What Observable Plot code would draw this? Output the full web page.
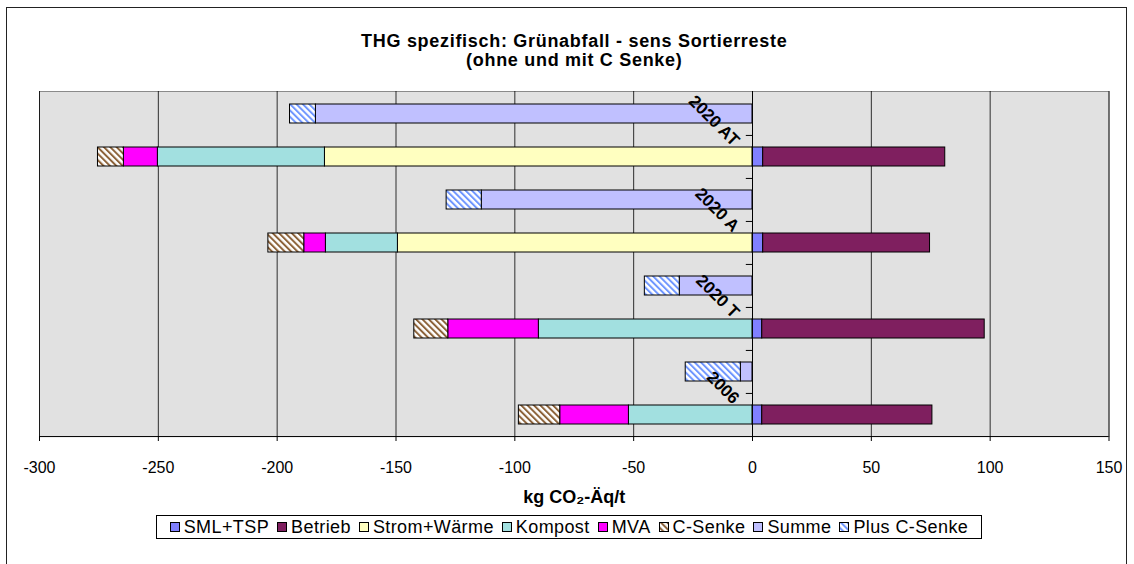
<!DOCTYPE html>
<html>
<head>
<meta charset="utf-8">
<script src="https://cdn.jsdelivr.net/npm/d3@7"></script>
<script src="https://cdn.jsdelivr.net/npm/@observablehq/plot@0.6"></script>
<style>
  body { margin: 0; background: #fff; }
  #wrap { position: relative; width: 1134px; height: 564px; overflow: hidden; font-family: "Liberation Sans", Arial, sans-serif; }
  #border { position: absolute; left: 6px; top: 7px; width: 1121px; height: 600px; border: 1px solid #222; box-sizing: border-box; }
  #chart { position: absolute; left: 0; top: 0; }
  #legend { position: absolute; left: 156px; top: 515px; width: 826px; height: 24px; border: 1px solid #000; box-sizing: border-box; background: #fff;
            display: flex; align-items: center; justify-content: center; font-size: 18px; color: #000; white-space: nowrap; letter-spacing: 0.4px; }
  #legend .item { display: inline-flex; align-items: center; margin: 0 4px; }
  #legend svg { margin-right: 4px; }
</style>
</head>
<body>
<svg width="0" height="0" style="position:absolute">
  <defs>
    <pattern id="hatchBrown" patternUnits="userSpaceOnUse" width="4.5" height="4.5" patternTransform="rotate(-45)">
      <rect width="4.5" height="4.5" fill="#ffffff"></rect>
      <rect width="2" height="4.5" fill="#8c6239"></rect>
    </pattern>
    <pattern id="hatchBlue" patternUnits="userSpaceOnUse" width="4.5" height="4.5" patternTransform="rotate(-45)">
      <rect width="4.5" height="4.5" fill="#ffffff"></rect>
      <rect width="2" height="4.5" fill="#6f96ff"></rect>
    </pattern>
  </defs>
</svg>
<div id="wrap">
  <div id="border"></div>
  <div id="chart"></div>
  <div id="legend"></div>
</div>
<script>
// ---- data ----
const categories = ["2020 AT", "2020 A", "2020 T", "2006"];
const seriesNames = ["SML+TSP", "Betrieb", "Strom+Wärme", "Kompost", "MVA", "C-Senke", "Summe", "Plus C-Senke"];
const smlTsp      = [4.5, 4.5, 4.1, 4.1];
const betrieb     = [76.6, 70.2, 93.6, 71.6];
const stromWaerme = [-179.9, -149.2, 0, 0];
const kompost     = [-70.3, -30.3, -89.9, -52.0];
const mva         = [-14.3, -9.1, -38.1, -28.9];
const cSenke      = [-10.9, -15.1, -14.3, -17.4];
const summe       = [-183.7, -113.9, -30.6, -4.9];
const plusCSenke  = [-10.9, -14.8, -14.7, -23.2];
const xTicks = [-300, -250, -200, -150, -100, -50, 0, 50, 100, 150];
const titleLines = ["THG spezifisch: Grünabfall - sens Sortierreste", "(ohne und mit C Senke)"];
const xLabel = "kg CO₂-Äq/t";

const colors = {
  "SML+TSP": "#8080ff",
  "Betrieb": "#7f1f5f",
  "Strom+Wärme": "#ffffc0",
  "Kompost": "#a2e0e0",
  "MVA": "#ff00ff",
  "C-Senke": "url(#hatchBrown)",
  "Summe": "#c0c0ff",
  "Plus C-Senke": "url(#hatchBlue)"
};

// ---- build table ----
const rows = [];
categories.forEach(c => { rows.push(c + "|sum"); rows.push(c + "|comp"); });
const data = [];
categories.forEach((c, i) => {
  const comp = [["SML+TSP", smlTsp[i]], ["Betrieb", betrieb[i]], ["Strom+Wärme", stromWaerme[i]],
                ["Kompost", kompost[i]], ["MVA", mva[i]], ["C-Senke", cSenke[i]]];
  comp.forEach(([s, v]) => { if (v !== 0) data.push({row: c + "|comp", series: s, value: v}); });
  data.push({row: c + "|sum", series: "Summe", value: summe[i]});
  data.push({row: c + "|sum", series: "Plus C-Senke", value: plusCSenke[i]});
});

const W = 1134, H = 564, mT = 91, mB = 128, mL = 39, mR = 25.5;
const step = (H - mT - mB) / rows.length;

const chart = Plot.plot({
  width: W, height: H,
  marginTop: mT, marginBottom: mB, marginLeft: mL, marginRight: mR,
  style: {fontFamily: "'Liberation Sans', Arial, sans-serif", background: "transparent", color: "#000"},
  x: {domain: [-300, 150], axis: null},
  y: {domain: rows, padding: 0, axis: null},
  color: {type: "identity"},
  marks: [
    Plot.frame({fill: "#e1e1e1", stroke: "#8a8a8a"}),
    Plot.gridX(xTicks, {stroke: "#000", strokeOpacity: 0.8}),
    Plot.barX(data, {x: "value", y: "row", fill: d => colors[d.series], stroke: "#000", strokeWidth: 1, insetTop: 12, insetBottom: 12}),
    Plot.ruleX([0], {stroke: "#000"}),
    Plot.ruleY(rows.slice(1), {y: d => d, x1: -2.6, x2: 0, dy: -step / 2, stroke: "#000"}),
    Plot.ruleY([rows[rows.length - 1]], {y: d => d, dy: step / 2, stroke: "#000"}),
    Plot.axisX(xTicks, {tickSize: 5, tickPadding: 20, fontSize: 16, label: null, tickFormat: d => String(d), stroke: "#000"}),
    Plot.text(categories, {x: 0, y: d => d + "|sum", text: d => d, rotate: 45, textAnchor: "end", lineAnchor: "bottom", dx: -20, dy: 33, fontSize: 17, fontWeight: "bold", fill: "#000"}),
    Plot.text([titleLines[0]], {text: d => d, frameAnchor: "top", dy: -57, fontSize: 18, fontWeight: "bold", fill: "#000"}),
    Plot.text([titleLines[1]], {text: d => d, frameAnchor: "top", dy: -38, fontSize: 18, fontWeight: "bold", fill: "#000"}),
    Plot.text([xLabel], {text: d => d, frameAnchor: "bottom", dy: 66, fontSize: 18, fontWeight: "bold", fill: "#000"})
  ]
});
// widen title lettering like the reference
d3.select(chart).selectAll("text").filter(function() { return titleLines.includes(this.textContent); })
  .style("letter-spacing", "0.7px");
document.getElementById("chart").appendChild(chart);

// ---- legend ----
const legend = document.getElementById("legend");
seriesNames.forEach(s => {
  const item = document.createElement("span");
  item.className = "item";
  item.innerHTML = `<svg width="10" height="10"><rect x="0.5" y="0.5" width="9" height="9" fill="${colors[s]}" stroke="#000"></rect></svg>${s}`;
  legend.appendChild(item);
});
</script>
</body>
</html>
